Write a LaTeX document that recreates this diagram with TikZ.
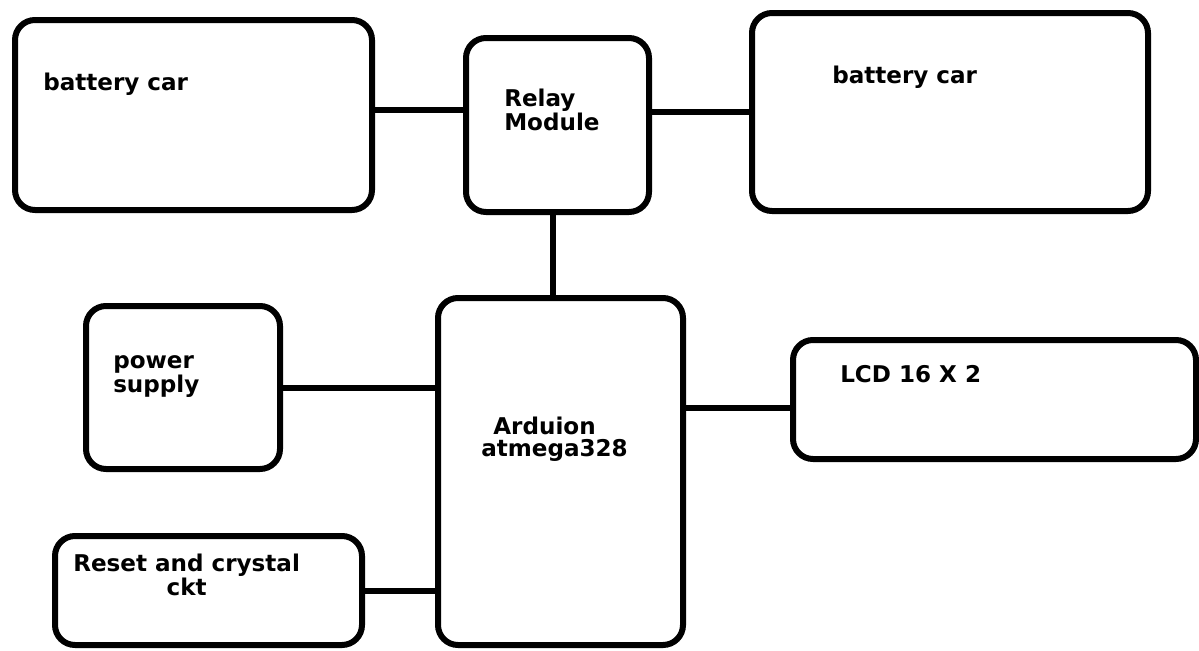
\documentclass[tikz,border=0pt]{standalone}
\usepackage{fontspec}
\setmainfont{DejaVu Sans}
\begin{document}
\begin{tikzpicture}[x=0.75pt,y=-0.75pt,
  box/.style 2 args={draw=black,line width=4.5pt,rounded corners=15pt,inner sep=0pt,
    minimum width=#1*0.75pt,minimum height=#2*0.75pt},
  lbl/.style={font=\bfseries\fontsize{17.3}{16.5}\selectfont,inner sep=0pt,anchor=base west,align=left},
  wire/.style={draw=black,line width=4.5pt}]
\useasboundingbox (0,0) rectangle (1199,650);
% boxes
\node[box={357}{190}] (bl) at (193.5,115) {};
\node[box={183}{174}] (relay) at (557.5,125) {};
\node[box={396}{198}] (br) at (950,112) {};
\node[box={194}{163}] (power) at (183,387.5) {};
\node[box={307}{109}] (reset) at (208.5,590.5) {};
\node[box={245}{347}] (ard) at (560.5,471.5) {};
\node[box={403}{119}] (lcd) at (994.5,399.5) {};
% labels
\node[lbl] (tbl) at (43,90) {battery car};
\node[lbl] (tbr) at (832,83) {battery car};
\node[lbl] (trelay) at (504,130) {Relay\\Module};
\node[lbl] (tpower) at (113,392) {power\\supply};
\node[lbl,align=center] (treset) at (73,595) {Reset and crystal\\ckt};
\node[lbl,align=center] (tard) at (481,456) {Arduion\hspace*{15pt}\\atmega328};
\node[lbl] (tlcd) at (840,382) {LCD 16 X 2};
% connectors
\draw[wire] (bl.east |- 0,110) -- (relay.west |- 0,110);
\draw[wire] (br.west) -- (br.west -| relay.east);
\draw[wire] (relay.south -| 553,0) -- (ard.north -| 553,0);
\draw[wire] (power.east) -- (power.east -| ard.west);
\draw[wire] (reset.east) -- (reset.east -| ard.west);
\draw[wire] (ard.east |- 0,408) -- (lcd.west |- 0,408);
\end{tikzpicture}
\end{document}
